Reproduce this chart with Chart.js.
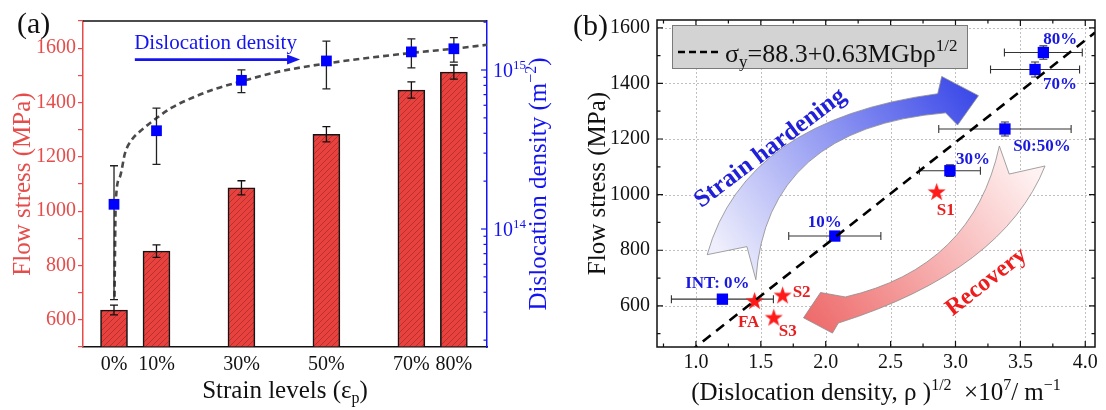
<!DOCTYPE html>
<html>
<head>
<meta charset="utf-8">
<script src="https://cdn.jsdelivr.net/npm/chart.js@4.4.1/dist/chart.umd.min.js"></script>
<style>
  html, body { margin: 0; padding: 0; background: #fff; }
  #wrap { position: relative; width: 1106px; height: 410px; overflow: hidden; }
  canvas { position: absolute; top: 0; }
  #ca { left: 0; }
  #cb { left: 553px; }
</style>
</head>
<body>
<div id="wrap">
  <canvas id="ca" width="553" height="410"></canvas>
  <canvas id="cb" width="553" height="410"></canvas>
</div>
<script>
// ---- (a) flow stress and dislocation density vs. strain level ----
const strain = [0, 10, 30, 50, 70, 80];
const flowStress = [636, 853, 1086, 1283, 1446, 1512];
const flowStressErr = [18, 23, 26, 28, 30, 26];
const rho = [1.43e14, 4.15e14, 8.61e14, 1.14e15, 1.30e15, 1.36e15];
const rhoErr = [1.07e14, 1.6e14, 1.4e14, 3.8e14, 2.7e14, 2.4e14];
// fitted trend through the density points
const fitStrain = [0.12, 0.24, 0.4, 1.41, 2.59, 4.16, 6.52, 10.05, 13.6, 19.06, 23.8, 30.1, 39.1, 50.1, 69.9, 79.8, 87.8];
const fitRho = [3.75e13, 7.4e13, 1.46e14, 2.13e14, 3.0e14, 3.63e14, 4.2e14, 4.99e14, 5.8e14, 6.8e14, 7.6e14, 8.5e14, 9.8e14, 1.10e15, 1.28e15, 1.36e15, 1.44e15];

// ---- (b) Taylor relation: flow stress vs sqrt(rho) ----
const sampleNames = ['INT: 0%', '10%', '30%', 'S0:50%', '70%', '80%'];
const sqrtRho = [1.204, 2.07, 2.957, 3.381, 3.613, 3.677];
const sqrtRhoErr = [0.393, 0.355, 0.235, 0.51, 0.343, 0.30];
const stressB = [624, 851, 1086, 1236, 1450, 1511];
const stressBErr = [8, 8, 21, 25, 27, 24];
const otherNames = ['FA', 'S1', 'S2', 'S3'];
const otherSqrtRho = [1.452, 2.855, 1.668, 1.600];
const otherStress = [616, 1008, 636, 556];
const taylorX = [0.95, 4.075];
const taylorY = [434, 1583];

// label offsets (px) from each marker
const sampleLabelOffset = [[-5, -17], [-10, -15], [23, -12], [37, 16], [25, 14], [17, -14]];
const otherLabelOffset = [[-6, 20], [9, 17], [19, -4], [14, 12]];

// curved arrows in (b), in axis units
const hardenArrow = {
  tailA: [1.0865, 784], ctrlA: [1.3775, 1269], endA: [2.863, 1363], barbA: [2.894, 1425],
  tip: [3.177, 1356], barbB: [3.016, 1250], endB: [2.924, 1294], ctrlB: [1.542, 1240],
  tailB: [1.4617, 694], notch: [1.3928, 813]
};
const recoveryArrow = {
  tailA: [3.338, 1175], ctrlA: [3.135, 737], endA: [2.151, 632], barbA: [1.960, 648],
  tip: [1.829, 557], barbB: [2.052, 502], endB: [2.097, 538], ctrlB: [3.368, 727],
  tailB: [3.690, 1103], notch: [3.414, 1074]
};

const SERIF = '"Liberation Serif", "Times New Roman", serif';
const RED = '#e64c4a';
const BLUE = '#1414f0';
const isMult = (v, m) => Math.abs(v / m - Math.round(v / m)) < 1e-6;

function drawRich(ctx, parts, x, y, o) {
  const size = o.size, weight = o.bold ? 'bold ' : '';
  const fontOf = k => weight + (k ? Math.round(size * 0.64) : size) + 'px ' + SERIF;
  ctx.save();
  ctx.translate(x, y);
  ctx.rotate(o.rot || 0);
  ctx.fillStyle = o.color || '#111';
  ctx.textBaseline = 'alphabetic';
  ctx.textAlign = 'left';
  let w = 0;
  parts.forEach(([t, k]) => { ctx.font = fontOf(k); w += ctx.measureText(t).width; });
  let cx = o.align === 'left' ? 0 : o.align === 'right' ? -w : -w / 2;
  parts.forEach(([t, k]) => {
    ctx.font = fontOf(k);
    const dy = k === 'sup' ? -size * 0.4 : k === 'sub' ? size * 0.2 : 0;
    ctx.fillText(t, cx, size * 0.33 + dy);
    cx += ctx.measureText(t).width;
  });
  ctx.restore();
}

function makeHatch(ctx) {
  const c = document.createElement('canvas');
  c.width = c.height = 6;
  const g = c.getContext('2d');
  g.fillStyle = '#e8423e';
  g.fillRect(0, 0, 6, 6);
  g.strokeStyle = '#9a2422';
  g.lineWidth = 0.6;
  g.beginPath();
  g.moveTo(0, 6); g.lineTo(6, 0);
  g.moveTo(-1, 1); g.lineTo(1, -1);
  g.moveTo(5, 7); g.lineTo(7, 5);
  g.stroke();
  return ctx.createPattern(c, 'repeat');
}

function makeStar(r, color) {
  const c = document.createElement('canvas');
  c.width = c.height = Math.ceil(r * 2 + 2);
  const g = c.getContext('2d');
  const m = c.width / 2;
  g.beginPath();
  for (let k = 0; k < 10; k++) {
    const rr = k % 2 ? r * 0.4 : r;
    const ang = -Math.PI / 2 + k * Math.PI / 5;
    g.lineTo(m + rr * Math.cos(ang), m + rr * Math.sin(ang));
  }
  g.closePath();
  g.fillStyle = color;
  g.fill();
  return c;
}

function errBar(ctx, x0, y0, x1, y1, cap, vertical) {
  ctx.beginPath();
  ctx.moveTo(x0, y0); ctx.lineTo(x1, y1);
  if (vertical) {
    ctx.moveTo(x0 - cap, y0); ctx.lineTo(x0 + cap, y0);
    ctx.moveTo(x1 - cap, y1); ctx.lineTo(x1 + cap, y1);
  } else {
    ctx.moveTo(x0, y0 - cap); ctx.lineTo(x0, y0 + cap);
    ctx.moveTo(x1, y1 - cap); ctx.lineTo(x1, y1 + cap);
  }
  ctx.stroke();
}

// ---------------- panel (a) ----------------
const ctxA = document.getElementById('ca').getContext('2d');

const panelA = {
  id: 'panelA',
  afterDatasetDraw(chart, args) {
    if (args.index !== 0) return;
    const { ctx, scales: { x, y } } = chart;
    ctx.save();
    ctx.strokeStyle = '#111';
    ctx.lineWidth = 1.3;
    strain.forEach((s, i) => {
      const px = x.getPixelForValue(s);
      errBar(ctx, px, y.getPixelForValue(flowStress[i] - flowStressErr[i]), px, y.getPixelForValue(flowStress[i] + flowStressErr[i]), 4, true);
    });
    ctx.restore();
  },
  beforeDatasetDraw(chart, args) {
    if (args.index !== 2) return;
    const { ctx, scales: { x, y1 } } = chart;
    ctx.save();
    ctx.strokeStyle = '#222';
    ctx.lineWidth = 1.3;
    strain.forEach((s, i) => {
      const px = x.getPixelForValue(s);
      errBar(ctx, px, y1.getPixelForValue(rho[i] - rhoErr[i]), px, y1.getPixelForValue(rho[i] + rhoErr[i]), 4, true);
    });
    ctx.restore();
  },
  afterDraw(chart) {
    const { ctx, chartArea: a, scales: { x, y, y1 } } = chart;
    ctx.save();
    ctx.strokeStyle = '#111';
    ctx.lineWidth = 1.5;
    ctx.beginPath(); ctx.moveTo(a.left, a.top); ctx.lineTo(a.right, a.top); ctx.stroke();

    // log axis: inward ticks, decade labels
    ctx.strokeStyle = BLUE;
    ctx.lineWidth = 1.2;
    y1.ticks.forEach(t => {
      const v = t.value;
      if (v < y1.min || v > y1.max) return;
      const lg = Math.floor(Math.log10(v) + 1e-9);
      const mant = v / Math.pow(10, lg);
      if (Math.abs(mant - Math.round(mant)) > 1e-6) return;
      const major = Math.round(mant) === 1;
      const py = y1.getPixelForValue(v);
      ctx.beginPath(); ctx.moveTo(a.right - (major ? 6 : 3.5), py); ctx.lineTo(a.right, py); ctx.stroke();
      if (major) drawRich(ctx, [['10'], [String(lg), 'sup']], a.right + 6, py, { size: 20, color: BLUE, align: 'left' });
    });

    // axis titles
    drawRich(ctx, [['Flow stress (MPa)']], 22, (a.top + a.bottom) / 2, { size: 25, color: RED, rot: -Math.PI / 2 });
    drawRich(ctx, [['Dislocation density (m'], ['−2', 'sup'], [')']], 538, (a.top + a.bottom) / 2, { size: 25, color: BLUE, rot: -Math.PI / 2 });
    drawRich(ctx, [['Strain levels (ε'], ['p', 'sub'], [')']], (a.left + a.right) / 2, 390, { size: 25, color: '#111' });

    // density annotation with arrow
    drawRich(ctx, [['Dislocation density']], x.getPixelForValue(23.9), y.getPixelForValue(1622), { size: 21, color: BLUE });
    const ay = y.getPixelForValue(1558);
    const ax0 = x.getPixelForValue(4.9), ax1 = x.getPixelForValue(43.8);
    ctx.strokeStyle = BLUE; ctx.fillStyle = BLUE; ctx.lineWidth = 2.6;
    ctx.beginPath(); ctx.moveTo(ax0, ay); ctx.lineTo(ax1 - 10, ay); ctx.stroke();
    ctx.beginPath(); ctx.moveTo(ax1, ay); ctx.lineTo(ax1 - 13, ay - 5); ctx.lineTo(ax1 - 13, ay + 5); ctx.closePath(); ctx.fill();

    drawRich(ctx, [['(a)']], 17, 23, { size: 30, color: '#111', align: 'left' });
    ctx.restore();
  }
};

new Chart(ctxA, {
  type: 'scatter',
  data: {
    datasets: [
      {
        type: 'bar',
        data: strain.map((s, i) => ({ x: s, y: flowStress[i] })),
        yAxisID: 'y',
        base: 500,
        backgroundColor: makeHatch(ctxA),
        borderColor: '#151515',
        borderWidth: 1.6,
        barThickness: 27,
        order: 3
      },
      {
        type: 'line',
        data: fitStrain.map((s, i) => ({ x: s, y: fitRho[i] })),
        yAxisID: 'y1',
        showLine: true,
        borderColor: '#4a4a4a',
        borderWidth: 2.6,
        borderDash: [6, 4],
        pointRadius: 0,
        cubicInterpolationMode: 'monotone',
        order: 2
      },
      {
        type: 'scatter',
        data: strain.map((s, i) => ({ x: s, y: rho[i] })),
        yAxisID: 'y1',
        pointStyle: 'rect',
        pointRadius: 7.6,
        backgroundColor: '#0000ff',
        borderWidth: 0,
        order: 1
      }
    ]
  },
  options: {
    responsive: false,
    animation: false,
    events: [],
    layout: { padding: { top: 21, left: 0, right: 0, bottom: 0 } },
    plugins: { legend: { display: false }, tooltip: { enabled: false } },
    scales: {
      x: {
        type: 'linear', min: -7.3, max: 87.8, offset: false,
        afterBuildTicks: s => { s.ticks = strain.map(v => ({ value: v })); },
        ticks: { callback: v => v + '%', color: '#111', font: { family: SERIF, size: 20 }, padding: 6, maxRotation: 0, autoSkip: false },
        grid: { display: false, drawTicks: false, offset: false },
        border: { color: '#111', width: 1.5 },
        afterFit: s => { s.height = 63; s.paddingLeft = 0; s.paddingRight = 0; }
      },
      y: {
        position: 'left', min: 500, max: 1700,
        ticks: {
          stepSize: 100, autoSkip: false, includeBounds: false,
          callback: v => (isMult(v, 200) && v >= 600 && v <= 1600) ? v : '',
          color: RED, font: { family: SERIF, size: 20 }, padding: 2
        },
        grid: { drawOnChartArea: false, color: RED, tickLength: 5, lineWidth: 1.2 },
        border: { color: RED, width: 1.5 },
        afterFit: s => { s.width = 83; s.paddingTop = 0; s.paddingBottom = 0; }
      },
      y1: {
        type: 'logarithmic', position: 'right', min: 1.811e13, max: 2.033e15,
        ticks: { display: false },
        grid: { display: false, drawTicks: false },
        border: { color: BLUE, width: 1.5 },
        afterFit: s => { s.width = 66; s.paddingTop = 0; s.paddingBottom = 0; }
      }
    }
  },
  plugins: [panelA]
});

// ---------------- panel (b) ----------------
const ctxB = document.getElementById('cb').getContext('2d');

function drawBandArrow(chart, shape, c0, c1) {
  const { ctx, scales: { x, y } } = chart;
  const P = k => [x.getPixelForValue(shape[k][0]), y.getPixelForValue(shape[k][1])];
  const tA = P('tailA'), tB = P('tailB'), tip = P('tip');
  ctx.save();
  ctx.beginPath();
  ctx.moveTo(...tA);
  ctx.quadraticCurveTo(...P('ctrlA'), ...P('endA'));
  ctx.lineTo(...P('barbA'));
  ctx.lineTo(...tip);
  ctx.lineTo(...P('barbB'));
  ctx.lineTo(...P('endB'));
  ctx.quadraticCurveTo(...P('ctrlB'), ...tB);
  ctx.lineTo(...P('notch'));
  ctx.closePath();
  const g = ctx.createLinearGradient((tA[0] + tB[0]) / 2, (tA[1] + tB[1]) / 2, tip[0], tip[1]);
  g.addColorStop(0, c0);
  g.addColorStop(1, c1);
  ctx.fillStyle = g;
  ctx.fill();
  ctx.strokeStyle = '#8c8c8c';
  ctx.lineWidth = 0.8;
  ctx.stroke();
  ctx.restore();
}

const panelB = {
  id: 'panelB',
  beforeDatasetsDraw(chart) {
    const { ctx, chartArea: a, scales: { x, y } } = chart;
    ctx.save();
    ctx.strokeStyle = '#b0b0b0';
    ctx.lineWidth = 0.8;
    ctx.setLineDash([2, 2]);
    ctx.beginPath();
    x.ticks.forEach(t => {
      if (!isMult(t.value, 0.5)) return;
      const px = Math.round(x.getPixelForValue(t.value)) + 0.5;
      ctx.moveTo(px, a.top); ctx.lineTo(px, a.bottom);
    });
    y.ticks.forEach(t => {
      if (!isMult(t.value, 200)) return;
      const py = Math.round(y.getPixelForValue(t.value)) + 0.5;
      ctx.moveTo(a.left, py); ctx.lineTo(a.right, py);
    });
    ctx.stroke();
    ctx.restore();

    drawBandArrow(chart, hardenArrow, '#eeeefc', '#3a48e8');
    drawBandArrow(chart, recoveryArrow, '#fff2f2', '#ee6a6a');

    drawRich(ctx, [['Strain hardening']], x.getPixelForValue(1.565), y.getPixelForValue(1172), { size: 25, bold: true, color: '#2020d8', rot: -37 * Math.PI / 180 });
    drawRich(ctx, [['Recovery']], x.getPixelForValue(3.23), y.getPixelForValue(690), { size: 24, bold: true, color: '#ee1c1c', rot: -38 * Math.PI / 180 });
  },
  beforeDatasetDraw(chart, args) {
    if (args.index !== 2) return;
    const { ctx, scales: { x, y } } = chart;
    ctx.save();
    ctx.strokeStyle = '#333';
    ctx.lineWidth = 1.1;
    sqrtRho.forEach((v, i) => {
      const px = x.getPixelForValue(v), py = y.getPixelForValue(stressB[i]);
      errBar(ctx, x.getPixelForValue(v - sqrtRhoErr[i]), py, x.getPixelForValue(v + sqrtRhoErr[i]), py, 4, false);
      errBar(ctx, px, y.getPixelForValue(stressB[i] - stressBErr[i]), px, y.getPixelForValue(stressB[i] + stressBErr[i]), 4, true);
    });
    ctx.restore();
  },
  afterDatasetsDraw(chart) {
    const { ctx, chartArea: a, scales: { x, y } } = chart;
    ctx.save();
    // frame with inward ticks on all four sides
    ctx.strokeStyle = '#111';
    ctx.lineWidth = 1.5;
    ctx.strokeRect(a.left, a.top, a.right - a.left, a.bottom - a.top);
    ctx.lineWidth = 1.2;
    ctx.beginPath();
    x.ticks.forEach(t => {
      const px = x.getPixelForValue(t.value), len = isMult(t.value, 0.5) ? 6 : 3.5;
      ctx.moveTo(px, a.bottom); ctx.lineTo(px, a.bottom - len);
      ctx.moveTo(px, a.top); ctx.lineTo(px, a.top + len);
    });
    y.ticks.forEach(t => {
      const py = y.getPixelForValue(t.value), len = isMult(t.value, 200) ? 6 : 3.5;
      ctx.moveTo(a.left, py); ctx.lineTo(a.left + len, py);
      ctx.moveTo(a.right, py); ctx.lineTo(a.right - len, py);
    });
    ctx.stroke();

    // point labels
    const blueMeta = chart.getDatasetMeta(2), redMeta = chart.getDatasetMeta(1);
    sampleNames.forEach((n, i) => {
      const el = blueMeta.data[i];
      drawRich(ctx, [[n]], el.x + sampleLabelOffset[i][0], el.y + sampleLabelOffset[i][1], { size: 17, bold: true, color: '#1818e0' });
    });
    otherNames.forEach((n, i) => {
      const el = redMeta.data[i];
      drawRich(ctx, [[n]], el.x + otherLabelOffset[i][0], el.y + otherLabelOffset[i][1], { size: 17, bold: true, color: '#e81e1e' });
    });

    // legend box
    const bx = a.left + 15, by = a.top + 5;
    ctx.fillStyle = '#d3d3d3';
    ctx.strokeStyle = '#7a7a7a';
    ctx.lineWidth = 1;
    ctx.fillRect(bx, by, 295, 43);
    ctx.strokeRect(bx + 0.5, by + 0.5, 295, 43);
    ctx.strokeStyle = '#000';
    ctx.lineWidth = 2.6;
    ctx.setLineDash([7, 4]);
    ctx.beginPath(); ctx.moveTo(bx + 6, by + 27); ctx.lineTo(bx + 48, by + 27); ctx.stroke();
    ctx.setLineDash([]);
    drawRich(ctx, [['σ'], ['y', 'sub'], ['=88.3+0.63MGbρ'], ['1/2', 'sup']], bx + 53, by + 28, { size: 26, color: '#111', align: 'left' });

    // axis titles
    drawRich(ctx, [['Flow stress (MPa)']], 597 - 553, (a.top + a.bottom) / 2, { size: 25, color: '#111', rot: -Math.PI / 2 });
    drawRich(ctx, [['(Dislocation density, ρ )'], ['1/2', 'sup'], ['  ×10'], ['7', 'sup'], ['/ m'], ['−1', 'sup']], (a.left + a.right) / 2, 392, { size: 25, color: '#111' });
    drawRich(ctx, [['(b)']], 573 - 553, 25, { size: 30, color: '#111', align: 'left' });
    ctx.restore();
  }
};

new Chart(ctxB, {
  type: 'scatter',
  data: {
    datasets: [
      {
        type: 'line',
        data: taylorX.map((v, i) => ({ x: v, y: taylorY[i] })),
        showLine: true,
        borderColor: '#000',
        borderWidth: 2.6,
        borderDash: [10, 7],
        pointRadius: 0
      },
      {
        type: 'scatter',
        data: otherSqrtRho.map((v, i) => ({ x: v, y: otherStress[i] })),
        pointStyle: makeStar(9.5, '#ff1a1a'),
        pointRadius: 10
      },
      {
        type: 'scatter',
        data: sqrtRho.map((v, i) => ({ x: v, y: stressB[i] })),
        pointStyle: 'rect',
        pointRadius: 8,
        backgroundColor: '#0000ff',
        borderWidth: 0
      }
    ]
  },
  options: {
    responsive: false,
    animation: false,
    events: [],
    layout: { padding: { top: 20, left: 0, right: 8, bottom: 0 } },
    plugins: { legend: { display: false }, tooltip: { enabled: false } },
    scales: {
      x: {
        type: 'linear', min: 0.7, max: 4.075,
        ticks: {
          stepSize: 0.25, includeBounds: false, autoSkip: false, maxRotation: 0,
          callback: v => isMult(v, 0.5) ? v.toFixed(1) : '',
          color: '#111', font: { family: SERIF, size: 20 }, padding: 4
        },
        grid: { display: false, drawTicks: false },
        border: { display: false },
        afterFit: s => { s.height = 63; s.paddingLeft = 0; s.paddingRight = 0; }
      },
      y: {
        min: 452, max: 1628,
        ticks: {
          stepSize: 100, includeBounds: false, autoSkip: false,
          callback: v => isMult(v, 200) ? v : '',
          color: '#111', font: { family: SERIF, size: 20 }, padding: 7
        },
        grid: { display: false, drawTicks: false },
        border: { display: false },
        afterFit: s => { s.width = 104; s.paddingTop = 0; s.paddingBottom = 0; }
      }
    }
  },
  plugins: [panelB]
});
</script>
</body>
</html>
